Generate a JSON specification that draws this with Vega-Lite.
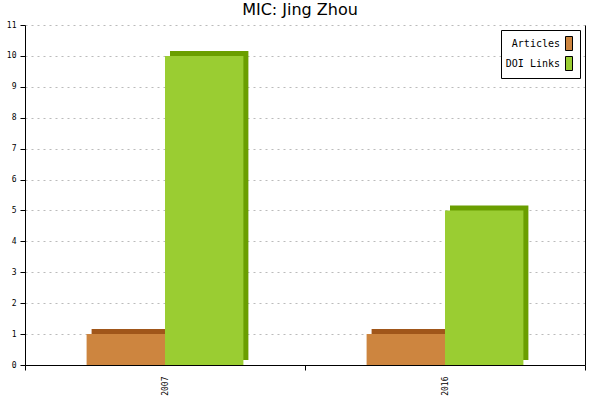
{
  "$schema": "https://vega.github.io/schema/vega-lite/v6.json",
  "width": 560,
  "height": 340,
  "autosize": {"type": "none"},
  "padding": {"left": 25, "top": 25, "right": 15, "bottom": 35},
  "background": "white",
  "title": {"text": "MIC: Jing Zhou", "font": "DejaVu Sans", "fontSize": 16, "fontWeight": "normal", "color": "#000000", "offset": 3, "dx": -5},
  "data": {"values": [
    {"year": "2007", "series": "Articles", "value": 1},
    {"year": "2007", "series": "DOI Links", "value": 10},
    {"year": "2016", "series": "Articles", "value": 1},
    {"year": "2016", "series": "DOI Links", "value": 5}
  ]},
  "config": {
    "view": {"stroke": null},
    "axis": {"labelFont": "DejaVu Sans Mono", "labelFontSize": 8, "labelColor": "#000000", "domainColor": "#000000", "tickColor": "#000000", "domain": true, "ticks": true, "domainWidth": 1, "tickWidth": 1}
  },
  "layer": [
    {
      "mark": {"type": "bar", "yOffset": -5},
      "encoding": {
        "x": {"field": "year", "type": "nominal", "scale": {"paddingInner": 0, "paddingOuter": 0}, "axis": {"title": null, "labelAngle": -90, "tickBand": "extent", "tickSize": 5, "labelPadding": 6}},
        "xOffset": {"field": "series", "type": "nominal", "scale": {"range": [66.6, 223.4], "paddingInner": 0, "paddingOuter": 0}},
        "y": {"field": "value", "type": "quantitative", "scale": {"domain": [0, 11], "nice": false}, "axis": {"orient": "right", "labels": false, "ticks": false, "grid": false, "domain": true, "title": null}},
        "fill": {"field": "series", "type": "nominal", "scale": {"range": ["#A0561A", "#6A9E00"]}, "legend": null}
      }
    },
    {
      "mark": {"type": "bar"},
      "encoding": {
        "x": {"field": "year", "type": "nominal", "scale": {"paddingInner": 0, "paddingOuter": 0}, "axis": {"title": null, "labelAngle": -90, "tickBand": "extent", "tickSize": 5, "labelPadding": 6}},
        "xOffset": {"field": "series", "type": "nominal", "scale": {"range": [61.6, 218.4], "paddingInner": 0, "paddingOuter": 0}},
        "y": {"field": "value", "type": "quantitative", "scale": {"domain": [0, 11], "nice": false}, "axis": {"orient": "left", "title": null, "values": [0,1,2,3,4,5,6,7,8,9,10,11], "tickSize": 5, "labelPadding": 4, "grid": true, "gridColor": "#bbbbbb", "gridDash": [2, 4], "domain": true}},
        "color": {"field": "series", "type": "nominal", "scale": {"range": ["#CD853F", "#9ACD32"]}, "legend": {
          "title": null, "orient": "top-right", "offset": 5,
          "strokeColor": "#000000", "fillColor": "#ffffff", "padding": 5,
          "labelFont": "DejaVu Sans Mono", "labelFontSize": 10, "labelColor": "#000000",
          "labelAlign": "right", "labelOffset": -17.5, "symbolOffset": 54.5,
          "symbolType": "M-0.4375,-0.875H0.4375V0.875H-0.4375Z", "symbolSize": 256, "symbolStrokeColor": "#000000", "symbolStrokeWidth": 1, "symbolOpacity": 1,
          "rowPadding": 1
        }}
      }
    }
  ],
  "resolve": {"axis": {"y": "independent"}, "scale": {"xOffset": "independent"}}
}
